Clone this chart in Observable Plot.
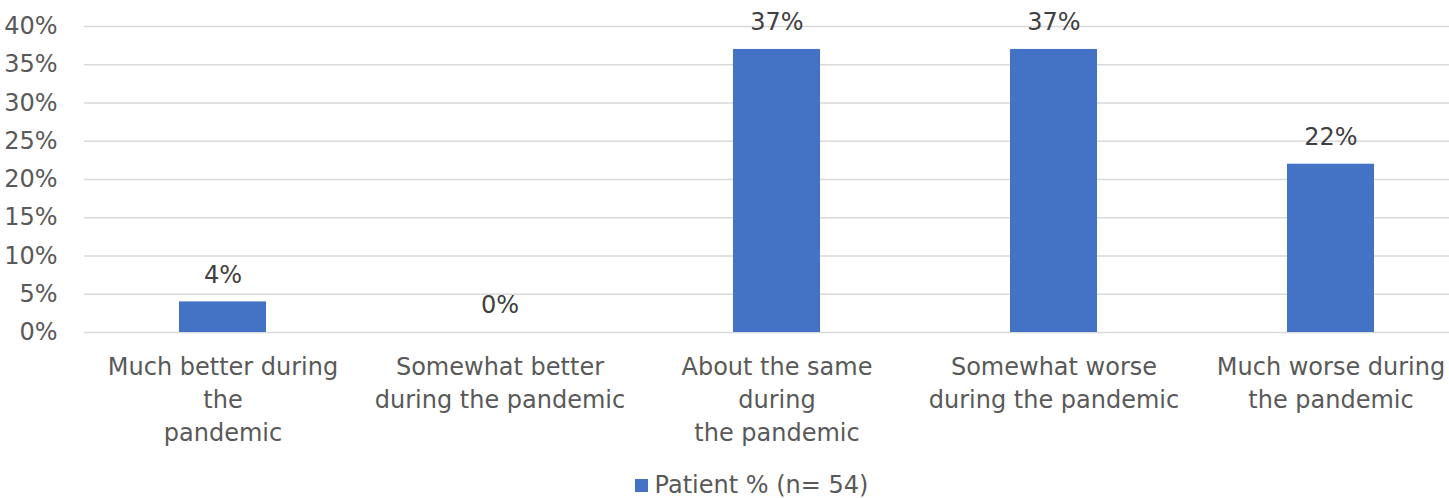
<!DOCTYPE html>
<html>
<head>
<meta charset="utf-8">
<script src="https://cdn.jsdelivr.net/npm/d3@7"></script>
<script src="https://cdn.jsdelivr.net/npm/@observablehq/plot@0.6"></script>
<style>
  body { margin: 0; background: #fff; font-family: "DejaVu Sans", sans-serif; }
  #legend { display: flex; justify-content: center; align-items: center; height: 50px; padding-left: 54px; font-size: 24px; color: #595959; }
  #legend .swatch { width: 13px; height: 13px; background: #4472C4; margin-right: 7px; display: inline-block; }
</style>
</head>
<body>
<div id="chart"></div>
<div id="legend"></div>
<script>
// Survey responses: how things changed during the pandemic
const categories = [
  "Much better during\nthe\npandemic",
  "Somewhat better\nduring the pandemic",
  "About the same\nduring\nthe pandemic",
  "Somewhat worse\nduring the pandemic",
  "Much worse during\nthe pandemic"
];
const patientPct = [4, 0, 37, 37, 22];
const yTicks = [0, 5, 10, 15, 20, 25, 30, 35, 40];
const seriesName = "Patient % (n= 54)";

const barColor = "#4472C4";
const fontFamily = '"DejaVu Sans", sans-serif';

const data = categories.map((c, i) => ({category: c, value: patientPct[i]}));

const chart = Plot.plot({
  width: 1449,
  height: 460,
  marginTop: 26,
  marginBottom: 128,
  marginLeft: 84,
  marginRight: 0,
  style: {fontFamily, fontSize: "24px", color: "#595959", background: "#fff"},
  x: {domain: categories, range: [84, 1469], paddingInner: 0.686, paddingOuter: 0.343, align: 0.5},
  y: {domain: [0, 40]},
  marks: [
    Plot.ruleY(yTicks, {stroke: "#d9d9d9", strokeWidth: 1.5}),
    Plot.barY(data, {x: "category", y: "value", fill: barColor}),
    Plot.text(data, {x: "category", y: "value", text: d => d.value + "%", dy: -27, fontSize: 24, fill: "#404040"}),
    Plot.axisX({tickSize: 0, tickPadding: 19, fontSize: 24, lineHeight: 1.375, label: null, fill: "#595959"}),
    Plot.axisY({ticks: yTicks, tickFormat: d => d + "%", tickSize: 0, tickPadding: 27, label: null, fontSize: 24, fill: "#595959"})
  ]
});
document.getElementById("chart").append(chart);

const legend = document.getElementById("legend");
const sw = document.createElement("span");
sw.className = "swatch";
legend.append(sw, document.createTextNode(seriesName));
</script>
</body>
</html>
